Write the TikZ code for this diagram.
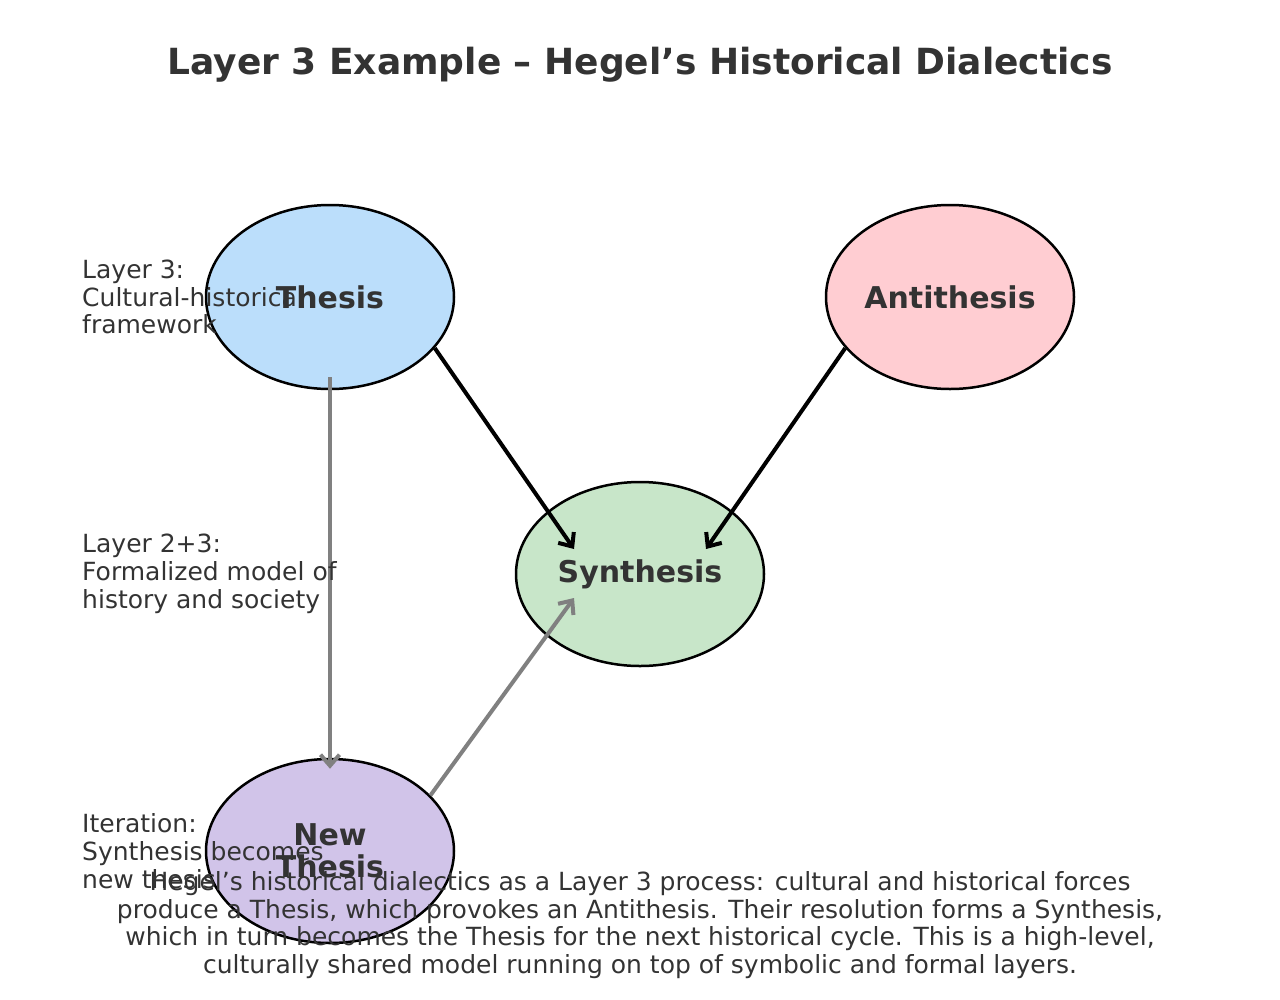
\documentclass[tikz,border=0pt]{standalone}
\usepackage{fontspec}
\setmainfont{DejaVu Sans}
\usetikzlibrary{shapes.geometric,arrows.meta,calc}
\definecolor{txt}{HTML}{333333}
\definecolor{cthesis}{HTML}{BBDEFB}
\definecolor{canti}{HTML}{FFCDD2}
\definecolor{csyn}{HTML}{C8E6C9}
\definecolor{cnew}{HTML}{D1C4E9}
\definecolor{arrgray}{HTML}{808080}
\begin{document}
\begin{tikzpicture}[x=1pt,y=1pt,
  oval/.style={ellipse,draw=black,line width=2.5pt,minimum width=248pt,minimum height=184pt,inner sep=0pt,
    text=txt,font=\fontsize{30}{32}\selectfont\bfseries,align=center},
  side/.style={anchor=west,align=left,text=txt,font=\fontsize{25}{27.7}\selectfont,inner sep=0pt},
  blk/.style={draw=black,line width=4pt,-{Straight Barb[length=11pt,width=19pt,line width=4pt]}},
  gry/.style={draw=arrgray,line width=4pt,-{Straight Barb[length=11pt,width=19pt,line width=4pt]}}
]
\useasboundingbox (0,0) rectangle (1280,-999);
\node[text=txt,font=\fontsize{36}{40}\selectfont\bfseries] (title) at (640,-65) {Layer 3 Example – Hegel’s Historical Dialectics};

\node[oval,fill=cthesis] (thesis) at (330,-297) {Thesis};
\node[oval,fill=canti] (anti) at (950,-297) {Antithesis};
\node[oval,fill=csyn] (syn) at (640,-574) {Synthesis};
\node[oval,fill=cnew] (newt) at (330,-851) {New\\Thesis};

\coordinate (synL) at (574,-549);
\coordinate (synR) at (706,-549);
\coordinate (synB) at (574,-598);
\draw[blk] (thesis.-26) -- (synL);
\draw[blk] (anti.-154) -- (synR);
\draw[gry] (thesis.south) -- (newt.north) [shorten <=-13pt, shorten >=-11pt];
\draw[gry] (newt.29) -- (synB);

\node[side] (l1) at (82,-297) {Layer 3:\\Cultural-historical\\framework};
\node[side] (l2) at (82,-574) {Layer 2+3:\\Formalized model of\\history and society};
\node[side] (l3) at (82,-851) {Iteration:\\Synthesis becomes\\new thesis};

\node[align=center,text=txt,font=\fontsize{25}{27.7}\selectfont,inner sep=0pt] (cap) at (640,-925) {Hegel’s historical dialectics as a Layer 3 process: cultural and historical forces\\produce a Thesis, which provokes an Antithesis. Their resolution forms a Synthesis,\\which in turn becomes the Thesis for the next historical cycle. This is a high-level,\\culturally shared model running on top of symbolic and formal layers.};
\end{tikzpicture}
\end{document}
